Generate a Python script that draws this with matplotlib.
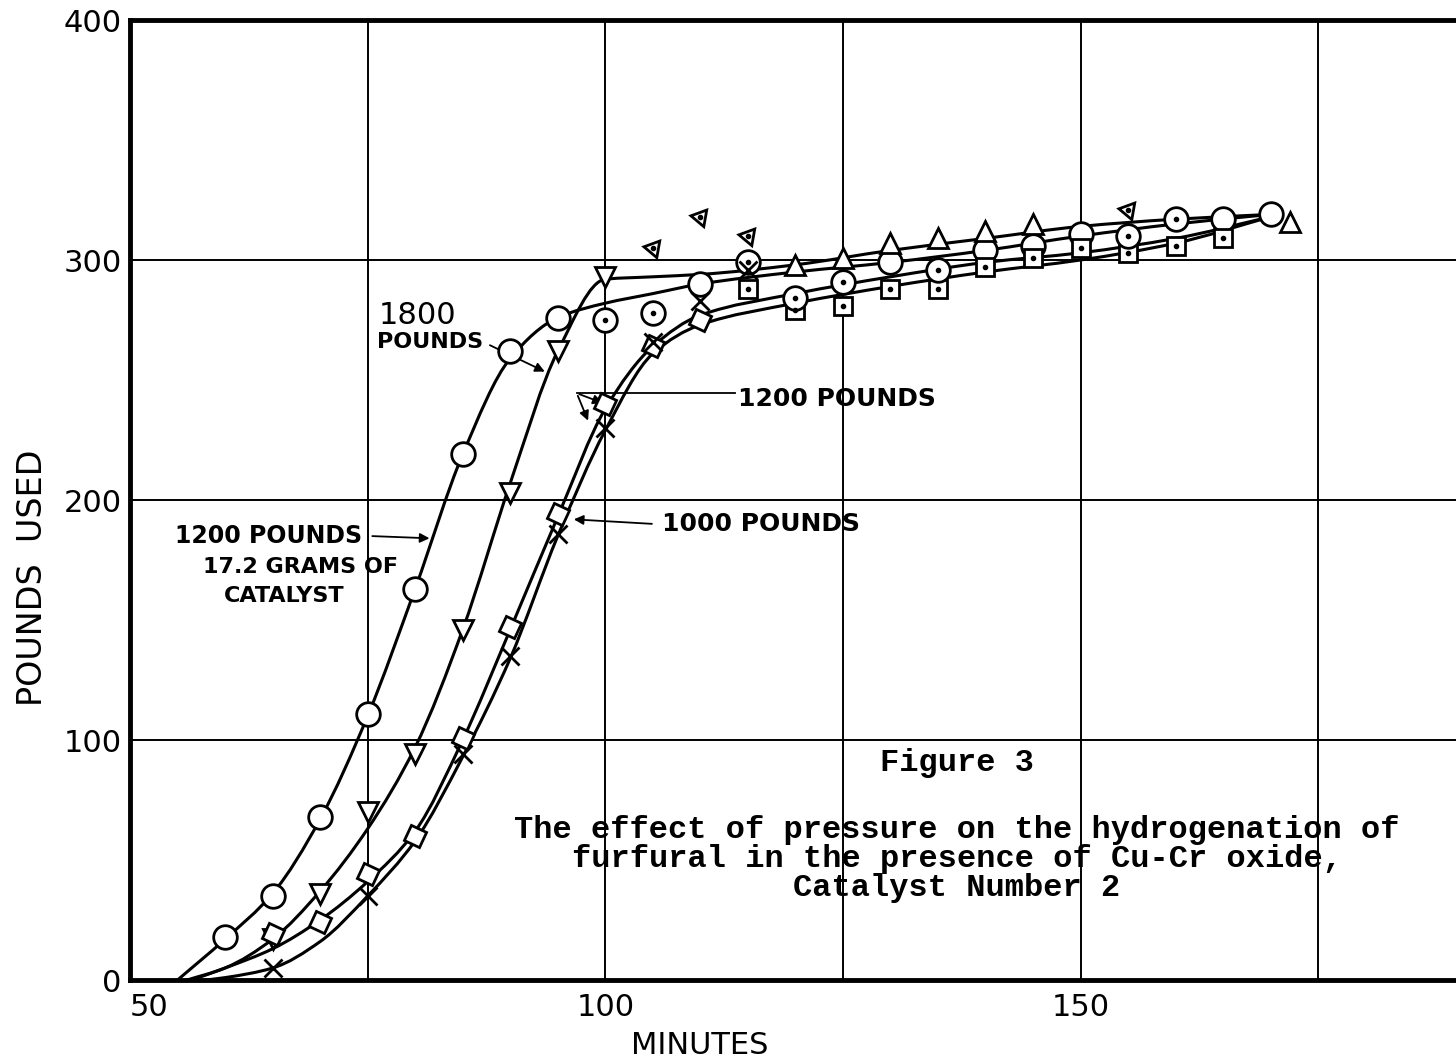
import numpy as np
import matplotlib
matplotlib.use("Agg")
import matplotlib.pyplot as plt
from matplotlib.path import Path
from matplotlib.patches import PathPatch
from matplotlib.markers import MarkerStyle

# --- runs: minutes vs pounds of hydrogen used ---

# 1200 lb, 17.2 g of catalyst (circles)
t_cat = [60, 65, 70, 75, 80, 85, 90, 95, 110, 130, 140, 145, 150, 165, 170]
p_cat = [18, 35, 68, 111, 163, 219, 262, 276, 290, 299, 304, 306, 311, 317, 319]
t_cat_curve = [55, 60, 65, 70, 75, 80, 85, 90, 95, 100, 105, 110, 120, 130, 140, 150, 160, 170]
p_cat_curve = [0, 17, 36, 67, 110, 163, 219, 259, 276, 282, 286, 290, 295, 299, 304, 310, 315, 319]

# 1800 lb (triangles)
t_1800_rise = [65, 70, 75, 80, 85, 90, 95, 100]
p_1800_rise = [17, 36, 70, 94, 146, 203, 262, 293]
t_1800_top = [120, 125, 130, 135, 140, 145, 172]
p_1800_top = [298, 301, 307, 309, 312, 315, 316]
t_1800_odd = [105, 110, 115, 155]
p_1800_odd = [305, 318, 310, 321]
t_1800_curve = [56, 60, 65, 70, 75, 80, 85, 90, 95, 100, 105, 110, 120, 130, 140, 150, 160, 170]
p_1800_curve = [0, 5, 17, 37, 63, 97, 146, 207, 262, 292, 293, 294, 298, 304, 309, 314, 317, 319]

# 1200 lb (tilted squares, then dotted squares)
t_1200 = [65, 70, 75, 80, 85, 90, 95, 100, 105, 110]
p_1200 = [19, 24, 44, 60, 101, 147, 194, 240, 264, 275]
t_1200_late = [115, 120, 125, 130, 135, 140, 145, 150, 155, 160, 165]
p_1200_late = [288, 279, 281, 288, 288, 297, 301, 305, 303, 306, 309]
t_1200_curve = [56.5, 60, 65, 70, 75, 80, 85, 90, 95, 100, 105, 110, 120, 130, 140, 150, 160, 170]
p_1200_curve = [0, 5, 13, 25, 41, 62, 100, 146, 193, 238, 264, 277, 286, 293, 299, 303, 309, 318]

# 1000 lb (crosses)
t_1000 = [65, 75, 85, 90, 95, 100, 105, 110, 115]
p_1000 = [5, 35, 94, 135, 186, 230, 266, 283, 296]
t_1000_curve = [58, 60, 65, 70, 75, 80, 85, 90, 95, 100, 105, 110, 120, 130, 140, 150, 160, 170]
p_1000_curve = [0, 1, 5, 16, 35, 58, 93, 134, 185, 229, 261, 273, 282, 289, 295, 300, 307, 318]

# dotted circles off the curves
t_dot = [100, 105, 115, 120, 125, 135, 155, 160]
p_dot = [275, 278, 299, 284, 291, 296, 310, 317]

x_ticks = [50, 75, 100, 125, 150, 175]
x_tick_labels = ["50", "", "100", "", "150", ""]
y_ticks = [0, 100, 200, 300, 400]

caption = ["The effect of pressure on the hydrogenation of",
           "furfural in the presence of Cu-Cr oxide,",
           "Catalyst Number 2"]


def smooth(xs, ys):
    # monotone cubic (Fritsch-Carlson) drawn as bezier segments
    x = np.asarray(xs, float)
    y = np.asarray(ys, float)
    h = np.diff(x)
    d = np.diff(y) / h
    m = np.zeros_like(x)
    m[0], m[-1] = d[0], d[-1]
    for k in range(1, len(x) - 1):
        if d[k - 1] * d[k] <= 0:
            m[k] = 0
        else:
            w1 = 2 * h[k] + h[k - 1]
            w2 = h[k] + 2 * h[k - 1]
            m[k] = (w1 + w2) / (w1 / d[k - 1] + w2 / d[k])
    verts = [(x[0], y[0])]
    codes = [Path.MOVETO]
    for k in range(len(x) - 1):
        verts += [(x[k] + h[k] / 3, y[k] + m[k] * h[k] / 3),
                  (x[k + 1] - h[k] / 3, y[k + 1] - m[k + 1] * h[k] / 3),
                  (x[k + 1], y[k + 1])]
        codes += [Path.CURVE4] * 3
    return Path(verts, codes)


fig = plt.figure(figsize=(14.56, 10.62), dpi=100)
ax = fig.add_axes([130 / 1456, 82 / 1062, 1 - 130 / 1456, 960 / 1062])

ax.set_xlim(50, 189.5)
ax.set_ylim(0, 400)
ax.set_xticks(x_ticks)
ax.set_xticklabels(x_tick_labels)
ax.set_yticks(y_ticks)
ax.tick_params(length=0, labelsize=22)
ax.tick_params(axis="x", pad=9)
ax.tick_params(axis="y", pad=6)
ax.get_xticklabels()[0].set_ha("left")
ax.grid(True, color="black", lw=1.4)
ax.set_axisbelow(True)
for side in ["left", "bottom", "top"]:
    ax.spines[side].set_linewidth(3.5)
ax.spines["right"].set_visible(False)

for tx, py in [(t_cat_curve, p_cat_curve), (t_1800_curve, p_1800_curve),
               (t_1200_curve, p_1200_curve), (t_1000_curve, p_1000_curve)]:
    ax.add_patch(PathPatch(smooth(tx, py), fill=False, ec="black", lw=2.2,
                           capstyle="round", zorder=3))

open_kw = dict(ls="none", mfc="white", mec="black", mew=2.0, zorder=4)
ax.plot(t_cat, p_cat, marker="o", ms=17, **open_kw)
ax.plot(t_1800_rise, p_1800_rise, marker="v", ms=14, **open_kw)
ax.plot(t_1800_top, p_1800_top, marker="^", ms=14, **open_kw)
ax.plot(t_1800_odd, p_1800_odd, marker=MarkerStyle((3, 0, 200)), ms=14, **open_kw)
ax.plot(t_1200, p_1200, marker=MarkerStyle((4, 0, 20)), ms=17, **open_kw)
ax.plot(t_1200_late, p_1200_late, marker="s", ms=13, **open_kw)
ax.plot(t_dot, p_dot, marker="o", ms=17, **open_kw)
ax.plot(t_1000, p_1000, ls="none", marker="x", ms=13, mec="black", mew=2.0, zorder=4)
# centre dots of the dotted markers
ax.plot(t_dot + t_1200_late + t_1800_odd, p_dot + p_1200_late + p_1800_odd,
        ls="none", marker="o", ms=3, color="black", zorder=5)

# curve labels
arrow = dict(arrowstyle="-|>", color="black", lw=1.3, mutation_scale=14)
ax.text(80.2, 277, "1800", fontsize=22, ha="center", va="center")
ax.text(81.6, 266, "POUNDS", fontsize=16, fontweight="bold", ha="center", va="center")
ax.annotate("", xy=(93.9, 253), xytext=(87.6, 265), arrowprops=arrow)

ax.text(74.4, 185, "1200 POUNDS", fontsize=17, fontweight="bold", ha="right", va="center")
ax.text(78.2, 172, "17.2 GRAMS OF", fontsize=16, fontweight="bold", ha="right", va="center")
ax.text(72.6, 160, "CATALYST", fontsize=16, fontweight="bold", ha="right", va="center")
ax.annotate("", xy=(81.8, 184), xytext=(75.2, 185), arrowprops=arrow)

ax.text(114.0, 242, "1200 POUNDS", fontsize=18, fontweight="bold", ha="left", va="center")
ax.plot([97.0, 113.6], [244.5, 244.5], color="black", lw=1.3, zorder=3)
ax.annotate("", xy=(98.3, 232), xytext=(97.0, 244.5), arrowprops=arrow)
ax.annotate("", xy=(100.0, 240), xytext=(97.0, 244.5), arrowprops=arrow)

ax.text(106.0, 190, "1000 POUNDS", fontsize=18, fontweight="bold", ha="left", va="center")
ax.annotate("", xy=(96.4, 192), xytext=(105.2, 190), arrowprops=arrow)

# figure caption
mono = dict(family="Liberation Mono", fontweight="bold", fontsize=23, ha="center", va="center")
ax.text(137.0, 90.5, "Figure 3", **mono)
for i, line in enumerate(caption):
    ax.text(137.0, 62.5 - 12 * i, line, **mono)

fig.text(33 / 1456, 1 - 578 / 1062, "POUNDS  USED", rotation=90, fontsize=24,
         ha="center", va="center")
fig.text(700 / 1456, 1 - 1045 / 1062, "MINUTES", fontsize=22, ha="center", va="center")

fig.savefig("out.png", dpi=100)
